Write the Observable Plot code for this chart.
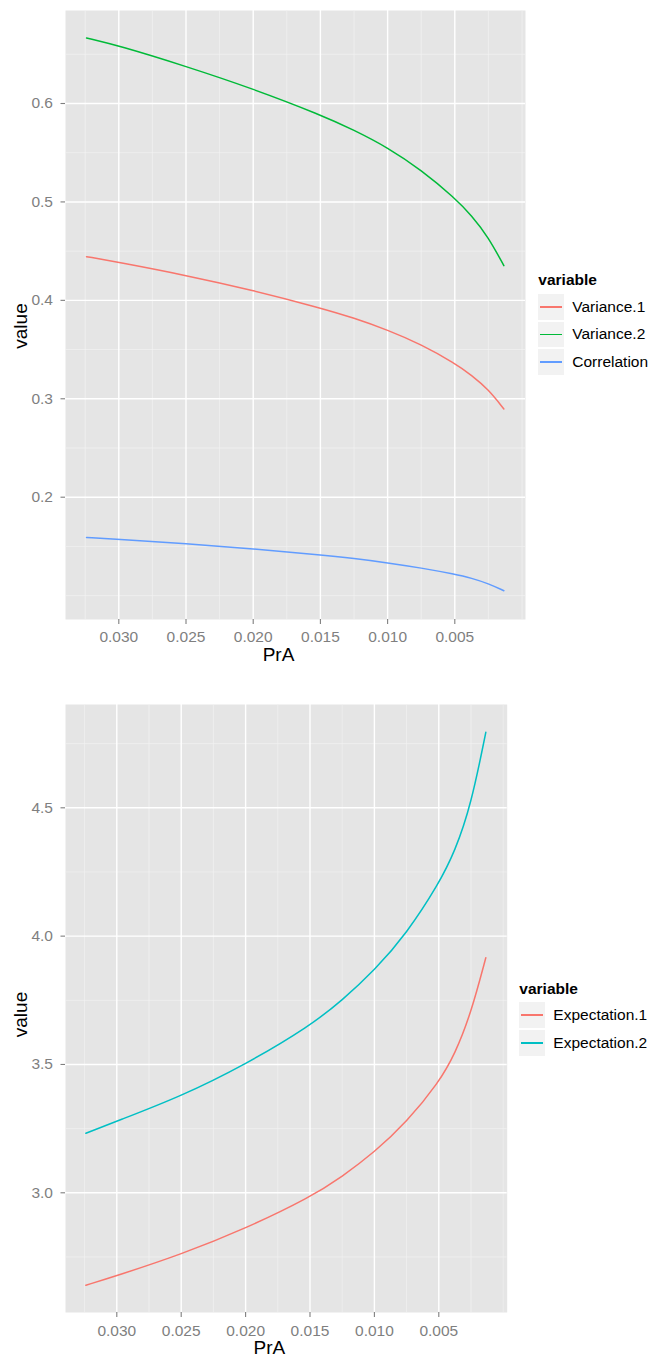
<!DOCTYPE html>
<html>
<head>
<meta charset="utf-8">
<script src="https://cdn.jsdelivr.net/npm/d3@7"></script>
<script src="https://cdn.jsdelivr.net/npm/@observablehq/plot@0.6"></script>
<style>
  html, body { margin: 0; padding: 0; background: #fff; }
  #wrap { position: relative; width: 654px; height: 1357px; font-family: "Liberation Sans", Arial, Helvetica, sans-serif; }
  .chart { position: absolute; left: 0; }
  .lg-title { position: absolute; font-weight: bold; font-size: 15.5px; color: #000; line-height: 1; }
  .lg-key { position: absolute; width: 25.5px; height: 25.5px; background: #F2F2F2; }
  .lg-key span { position: absolute; left: 2px; right: 2px; top: 12px; height: 1.6px; }
  .lg-label { position: absolute; font-size: 15.5px; color: #000; line-height: 1; }
</style>
</head>
<body>
<div id="wrap"></div>
<script>
// ---------- data ----------
const prA = [0.0324, 0.030, 0.025, 0.020, 0.015, 0.0125, 0.010, 0.0075, 0.005, 0.00375, 0.0025, 0.00135];

const variance1   = [0.4444, 0.4386, 0.4254, 0.4102, 0.3923, 0.3821, 0.3699, 0.3552, 0.3361, 0.3240, 0.3095, 0.2897];
const variance2   = [0.6666, 0.6588, 0.6378, 0.6149, 0.5886, 0.5730, 0.5553, 0.5325, 0.5040, 0.4862, 0.4642, 0.4352];
const correlation = [0.1591, 0.1571, 0.1527, 0.1476, 0.1415, 0.1378, 0.1334, 0.1281, 0.1218, 0.1178, 0.1122, 0.1050];

const expectation1 = [2.640, 2.677, 2.760, 2.861, 2.982, 3.063, 3.158, 3.275, 3.430, 3.540, 3.700, 3.916];
const expectation2 = [3.232, 3.279, 3.376, 3.500, 3.650, 3.750, 3.866, 4.010, 4.204, 4.330, 4.510, 4.794];

const seriesTop = ["Variance.1", "Variance.2", "Correlation"];
const colorsTop = ["#F8766D", "#00BA38", "#619CFF"];
const seriesBottom = ["Expectation.1", "Expectation.2"];
const colorsBottom = ["#F8766D", "#00BFC4"];

const xMajor = [0.030, 0.025, 0.020, 0.015, 0.010, 0.005];
const xMinor = [0.0325, 0.0275, 0.0225, 0.0175, 0.0125, 0.0075, 0.0025, 0.0];
const yMajorTop = [0.2, 0.3, 0.4, 0.5, 0.6];
const yMinorTop = [0.1, 0.15, 0.25, 0.35, 0.45, 0.55, 0.65];
const yMajorBottom = [3.0, 3.5, 4.0, 4.5];
const yMinorBottom = [2.75, 3.25, 3.75, 4.25, 4.75];

// ---------- build tables ----------
function longTable(names, arrays) {
  const out = [];
  names.forEach((name, i) => arrays[i].forEach((v, j) => out.push({PrA: prA[j], value: v, variable: name})));
  return out;
}
const topData = longTable(seriesTop, [variance1, variance2, correlation]);
const bottomData = longTable(seriesBottom, [expectation1, expectation2]);

const FONT = '"Liberation Sans", Arial, Helvetica, sans-serif';
const fmtX = d3.format(".3f");
const fmtY1 = d3.format(".1f");

function makePlot(cfg) {
  return Plot.plot({
    width: 654,
    height: cfg.height,
    marginLeft: 65,
    marginRight: cfg.marginRight,
    marginTop: cfg.marginTop,
    marginBottom: cfg.marginBottom,
    style: {fontFamily: FONT, background: "transparent", overflow: "visible"},
    x: {domain: cfg.xDomain},
    y: {domain: cfg.yDomain},
    color: {domain: cfg.series, range: cfg.colors},
    marks: [
      Plot.frame({fill: "#E5E5E5", stroke: null}),
      Plot.gridX(xMinor, {stroke: "#F2F2F2", strokeOpacity: 1, strokeWidth: 0.7}),
      Plot.gridY(cfg.yMinor, {stroke: "#F2F2F2", strokeOpacity: 1, strokeWidth: 0.7}),
      Plot.gridX(xMajor, {stroke: "#FFFFFF", strokeOpacity: 1, strokeWidth: 1.4}),
      Plot.gridY(cfg.yMajor, {stroke: "#FFFFFF", strokeOpacity: 1, strokeWidth: 1.4}),
      Plot.axisX(xMajor, {tickFormat: fmtX, tickSize: 5, tickPadding: cfg.xPad, fontSize: 15.5, color: "#7F7F7F", strokeWidth: 1.1, label: null}),
      Plot.axisY(cfg.yMajor, {tickFormat: fmtY1, tickSize: 4.5, tickPadding: 8, fontSize: 15.5, color: "#7F7F7F", strokeWidth: 1.1, label: null}),
      Plot.line(cfg.data, {x: "PrA", y: "value", stroke: "variable", z: "variable", curve: "basis", strokeWidth: 1.5}),
      Plot.text(["PrA"], {frameAnchor: "bottom", lineAnchor: "middle", textAnchor: "middle", dy: 35.5, dx: -17, fontSize: 19, fill: "#000"}),
      Plot.text(["value"], {frameAnchor: "left", lineAnchor: "middle", textAnchor: "middle", dx: -45, dy: cfg.valueDy, rotate: -90, fontSize: 19, fill: "#000"})
    ]
  });
}

const wrap = document.getElementById("wrap");

const p1 = makePlot({
  height: 680, marginTop: 10, marginBottom: 61, marginRight: 129,
  xDomain: [0.033966, -0.00026], yDomain: [0.07574, 0.69449],
  series: seriesTop, colors: colorsTop, data: topData,
  yMajor: yMajorTop, yMinor: yMinorTop, xPad: 6, valueDy: 11
});
p1.classList.add("chart");
p1.style.top = "0px";
wrap.appendChild(p1);

const p2 = makePlot({
  height: 677, marginTop: 24, marginBottom: 45, marginRight: 147.3,
  xDomain: [0.033983, -0.000311], yDomain: [2.5336, 4.9025],
  series: seriesBottom, colors: colorsBottom, data: bottomData,
  yMajor: yMajorBottom, yMinor: yMinorBottom, xPad: 7.5, valueDy: 6
});
p2.classList.add("chart");
p2.style.top = "680px";
wrap.appendChild(p2);

// ---------- legends (HTML, outside the SVG) ----------
function legend(left, titleCenterY, keyTops, names, colors) {
  const t = document.createElement("div");
  t.className = "lg-title";
  t.textContent = "variable";
  t.style.left = left + "px";
  t.style.top = (titleCenterY - 8) + "px";
  wrap.appendChild(t);
  names.forEach((name, i) => {
    const k = document.createElement("div");
    k.className = "lg-key";
    k.style.left = left + "px";
    k.style.top = keyTops[i] + "px";
    const s = document.createElement("span");
    s.style.background = colors[i];
    k.appendChild(s);
    wrap.appendChild(k);
    const l = document.createElement("div");
    l.className = "lg-label";
    l.textContent = name;
    l.style.left = (left + 34) + "px";
    l.style.top = (keyTops[i] + 12.75 - 8) + "px";
    wrap.appendChild(l);
  });
}
legend(538.3, 280, [294, 321.7, 349.3], seriesTop, colorsTop);
legend(519.3, 989, [1002, 1030], seriesBottom, colorsBottom);
</script>
</body>
</html>
